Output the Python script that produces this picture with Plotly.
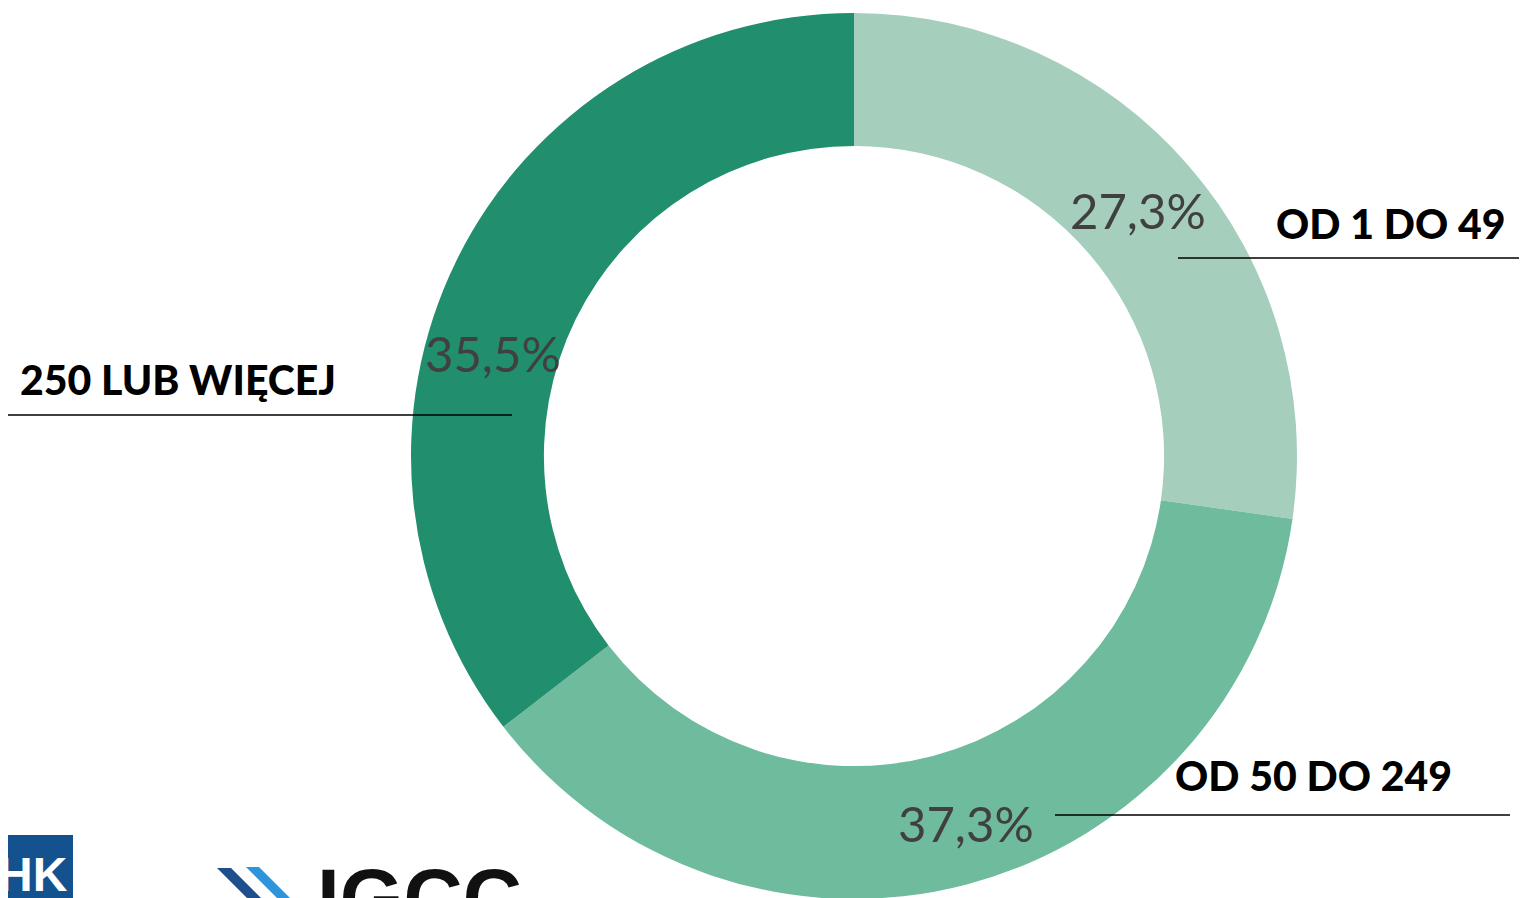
import plotly.graph_objects as go

categories = ["OD 1 DO 49", "OD 50 DO 249", "250 LUB WIĘCEJ"]
values = [27.3, 37.3, 35.5]
colors = ["#A5CFBC", "#6FBB9D", "#218E6D"]

W, H = 1527, 898
OFF = 8  # default page body margin


def px(x):
    return (x - OFF) / W


def py(y):
    return 1 - (y - OFF) / H


fig = go.Figure()
fig.add_trace(go.Pie(
    labels=categories,
    values=values,
    marker=dict(colors=colors, line=dict(width=0)),
    hole=0.70,
    sort=False,
    direction="clockwise",
    rotation=0,
    textinfo="none",
    hoverinfo="label+percent",
    showlegend=False,
    domain=dict(x=[px(411), px(1297)], y=[py(900), py(12)]),
))

pct_font = dict(family="Lato, Source Sans Pro, sans-serif", size=49, color="#404040")
lab_font = dict(family="Lato, Source Sans Pro, sans-serif", size=41, color="#000000", weight=900)

pct_pos = [(1138, 210), (966, 823), (493, 353)]
lab_pos = [(1274, 224, "left"), (1173, 775, "left"), (18, 379, "left")]
lines = [(1178, 1540, 258), (1055, 1510, 815), (2, 512, 415)]

annotations = []
shapes = []
for i, (cat, v) in enumerate(zip(categories, values)):
    txt = f"{v:.1f}".replace(".", ",") + "%"
    x, y = pct_pos[i]
    annotations.append(dict(text=txt, x=px(x), y=py(y), xref="paper", yref="paper",
                            xanchor="center", yanchor="middle", showarrow=False, font=pct_font))
    lx, ly, anc = lab_pos[i]
    annotations.append(dict(text=cat, x=px(lx), y=py(ly), xref="paper", yref="paper",
                            xanchor=anc, yanchor="middle", showarrow=False, font=lab_font))
    x0, x1, yl = lines[i]
    shapes.append(dict(type="line", xref="paper", yref="paper", x0=max(px(x0), 0), x1=min(px(x1), 1),
                       y0=py(yl), y1=py(yl), line=dict(color="#000000", width=1.5)))

# logos (decorative, partially cut at the bottom)
shapes.append(dict(type="rect", xref="paper", yref="paper", x0=0, x1=px(73),
                   y0=0, y1=py(835), fillcolor="#14528F", line=dict(width=0), layer="above"))
annotations.append(dict(text="<b>HK</b>", x=px(-4), y=py(846), xref="paper", yref="paper",
                        xanchor="left", yanchor="top", showarrow=False,
                        font=dict(family="Liberation Sans, Arial, sans-serif", size=48, color="white")))


def path(pts):
    return "M " + " L ".join(f"{px(a)},{py(b)}" for a, b in pts) + " Z"


shapes.append(dict(type="path", xref="paper", yref="paper",
                   path=path([(217, 868), (231, 868), (263, 900), (249, 900)]),
                   fillcolor="#1F4E8C", line=dict(width=0)))
shapes.append(dict(type="path", xref="paper", yref="paper",
                   path=path([(246, 867), (259, 867), (292, 900), (279, 900)]),
                   fillcolor="#2E95DC", line=dict(width=0)))
annotations.append(dict(text="<b>IGCC</b>", x=px(315), y=py(850), xref="paper", yref="paper",
                        xanchor="left", yanchor="top", showarrow=False,
                        font=dict(family="Liberation Sans, Arial, sans-serif", size=82, color="#111111")))

fig.update_layout(
    width=W, height=H,
    margin=dict(l=0, r=0, t=0, b=0),
    paper_bgcolor="white",
    plot_bgcolor="white",
    annotations=annotations,
    shapes=shapes,
)

fig.write_html("out.html")
